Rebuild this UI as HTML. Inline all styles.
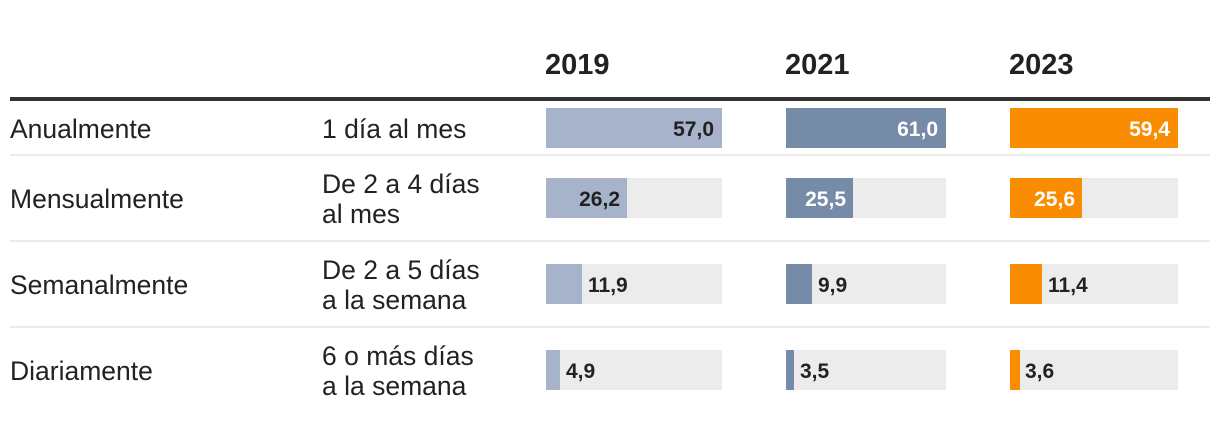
<!DOCTYPE html>
<html><head><meta charset="utf-8"><style>
html,body{margin:0;padding:0;background:#fff;}
svg{display:block;font-family:"Liberation Sans",sans-serif;}
.lab{font-size:26.5px;fill:#222;}
.yr{font-size:29px;font-weight:bold;fill:#222;}
.v{font-size:21px;font-weight:bold;}
</style></head><body>
<svg width="1220" height="422" viewBox="0 0 1220 422">
<text class="yr" x="545" y="74">2019</text>
<text class="yr" x="785" y="74">2021</text>
<text class="yr" x="1009" y="74">2023</text>
<rect x="10" y="97" width="1200" height="4" fill="#333"/>
<rect x="10" y="154" width="1200" height="2" fill="#ebebeb"/>
<rect x="10" y="240" width="1200" height="2" fill="#ebebeb"/>
<rect x="10" y="326" width="1200" height="2" fill="#ebebeb"/>

<text class="lab" x="10" y="138">Anualmente</text>
<text class="lab" x="322" y="138">1 día al mes</text>
<text class="lab" x="10" y="208">Mensualmente</text>
<text class="lab" x="322" y="193">De 2 a 4 días</text>
<text class="lab" x="322" y="223">al mes</text>
<text class="lab" x="10" y="294">Semanalmente</text>
<text class="lab" x="322" y="279">De 2 a 5 días</text>
<text class="lab" x="322" y="309">a la semana</text>
<text class="lab" x="10" y="380">Diariamente</text>
<text class="lab" x="322" y="365">6 o más días</text>
<text class="lab" x="322" y="395">a la semana</text>

<rect x="546" y="108" width="176" height="40" fill="#a7b3cb"/>
<text class="v" x="714" y="136" text-anchor="end" fill="#222">57,0</text>
<rect x="786" y="108" width="160" height="40" fill="#768ba8"/>
<text class="v" x="938" y="136" text-anchor="end" fill="#fff">61,0</text>
<rect x="1010" y="108" width="168" height="40" fill="#f98c00"/>
<text class="v" x="1170" y="136" text-anchor="end" fill="#fff">59,4</text>

<rect x="546" y="178" width="176" height="40" fill="#ececec"/>
<rect x="546" y="178" width="81" height="40" fill="#a7b3cb"/>
<text class="v" x="620" y="206" text-anchor="end" fill="#222">26,2</text>
<rect x="786" y="178" width="160" height="40" fill="#ececec"/>
<rect x="786" y="178" width="67" height="40" fill="#768ba8"/>
<text class="v" x="846" y="206" text-anchor="end" fill="#fff">25,5</text>
<rect x="1010" y="178" width="168" height="40" fill="#ececec"/>
<rect x="1010" y="178" width="72" height="40" fill="#f98c00"/>
<text class="v" x="1075" y="206" text-anchor="end" fill="#fff">25,6</text>

<rect x="546" y="264" width="176" height="40" fill="#ececec"/>
<rect x="546" y="264" width="36" height="40" fill="#a7b3cb"/>
<text class="v" x="588" y="292" fill="#222">11,9</text>
<rect x="786" y="264" width="160" height="40" fill="#ececec"/>
<rect x="786" y="264" width="26" height="40" fill="#768ba8"/>
<text class="v" x="818" y="292" fill="#222">9,9</text>
<rect x="1010" y="264" width="168" height="40" fill="#ececec"/>
<rect x="1010" y="264" width="32" height="40" fill="#f98c00"/>
<text class="v" x="1048" y="292" fill="#222">11,4</text>

<rect x="546" y="350" width="176" height="40" fill="#ececec"/>
<rect x="546" y="350" width="14" height="40" fill="#a7b3cb"/>
<text class="v" x="566" y="378" fill="#222">4,9</text>
<rect x="786" y="350" width="160" height="40" fill="#ececec"/>
<rect x="786" y="350" width="8" height="40" fill="#768ba8"/>
<text class="v" x="800" y="378" fill="#222">3,5</text>
<rect x="1010" y="350" width="168" height="40" fill="#ececec"/>
<rect x="1010" y="350" width="10" height="40" fill="#f98c00"/>
<text class="v" x="1025" y="378" fill="#222">3,6</text>
</svg>
</body></html>
